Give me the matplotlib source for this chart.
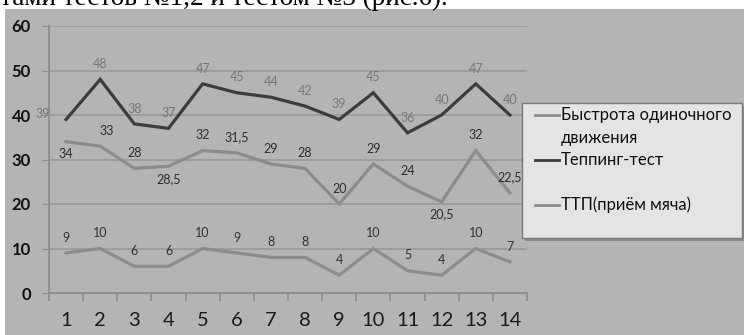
import matplotlib
matplotlib.use("Agg")
import matplotlib.pyplot as plt
from matplotlib.patches import Rectangle
from matplotlib.lines import Line2D

trials = list(range(1, 15))
speed = [34, 33, 28, 28.5, 32, 31.5, 29, 28, 20, 29, 24, 20.5, 32, 22.5]
tapping = [39, 48, 38, 37, 47, 45, 44, 42, 39, 45, 36, 40, 47, 40]
ttp = [9, 10, 6, 6, 10, 9, 8, 8, 4, 10, 5, 4, 10, 7]
series_names = ["Быстрота одиночного\nдвижения", "Теппинг-тест", "ТТП(приём мяча)"]
y_ticks = [0, 10, 20, 30, 40, 50, 60]
caption = "тами тестов №1,2 и тестом №3 (рис.6)."


def fmt(v):
    return (f"{v:g}").replace(".", ",")


BG = "#b4b4b4"
GRID = "#999999"
DARK_LINE = "#3c3c3c"
LIGHT_LINE = "#8c8c8c"

fig = plt.figure(figsize=(7.44, 3.35), dpi=100)
fig.patch.set_facecolor("white")

# grey chart area below the text line
fig.patches.append(Rectangle((5 / 744, 0), 1, 326 / 335, transform=fig.transFigure,
                             facecolor=BG, edgecolor="none", zorder=-5))
fig.text(0.0, 330 / 335, caption, family="Liberation Serif", fontsize=19.5,
         ha="left", va="baseline", color="black", zorder=-4)

ax = fig.add_axes([49 / 744, 42 / 335, 478 / 744, 267 / 335])
ax.set_zorder(1)
ax.set_facecolor("none")
ax.set_xlim(0.5, 14.5)
ax.set_ylim(0, 60)

for s in ["top", "right"]:
    ax.spines[s].set_visible(False)
for s in ["left", "bottom"]:
    ax.spines[s].set_color(LIGHT_LINE)
    ax.spines[s].set_linewidth(1.2)

ax.set_yticks(y_ticks)
ax.set_yticklabels([str(t) for t in y_ticks], fontweight="bold", family="Lato",
                   fontsize=12, color="#111111")
ax.yaxis.grid(True, color=GRID, linewidth=1.2)
ax.set_axisbelow(True)
ax.tick_params(axis="y", length=5, color=LIGHT_LINE, pad=8)

ax.set_xticks(trials)
ax.set_xticklabels([str(t) for t in trials], family="Lato", fontsize=14.5, color="#1a1a1a")
ax.set_xticks([i + 0.5 for i in range(0, 15)], minor=True)
ax.tick_params(axis="x", which="major", length=0, pad=14)
ax.tick_params(axis="x", which="minor", length=6, color=LIGHT_LINE, width=1.2)

ax.plot(trials, speed, color=LIGHT_LINE, lw=2.3, solid_joinstyle="miter", zorder=3)
ax.plot(trials, tapping, color=DARK_LINE, lw=2.3, solid_joinstyle="miter", zorder=3)
ax.plot(trials, ttp, color=LIGHT_LINE, lw=2.3, solid_joinstyle="miter", zorder=3)

lab_kw = dict(family="Lato", fontsize=9, ha="center", va="center", zorder=4)

# speed labels: mostly above, a few below
below_speed = {1, 4, 12}
for x, v in zip(trials, speed):
    dy = -9 if x in below_speed else 11
    dx = 5 if x == 2 else 0
    ax.annotate(fmt(v), (x, v), xytext=(dx, dy), textcoords="offset points",
                color="#2e2e2e", **lab_kw)

for x, v in zip(trials, tapping):
    if x == 1:
        ax.annotate(fmt(v), (x, v), xytext=(-17, 4), textcoords="offset points",
                    color="#777777", **lab_kw)
    else:
        ax.annotate(fmt(v), (x, v), xytext=(0, 11), textcoords="offset points",
                    color="#777777", **lab_kw)

for x, v in zip(trials, ttp):
    ax.annotate(fmt(v), (x, v), xytext=(0, 11), textcoords="offset points",
                color="#333333", **lab_kw)

# legend panel with shadow
lx0, ly0, lx1, ly1 = 522, 335 - 238, 742, 335 - 103
fig.add_artist(Rectangle(((lx0 + 3) / 744, (ly0 - 3) / 335), (lx1 - lx0) / 744,
                         (ly1 - ly0) / 335, transform=fig.transFigure,
                         facecolor="#8a8a8a", edgecolor="none", zorder=5))
fig.add_artist(Rectangle((lx0 / 744, ly0 / 335), (lx1 - lx0) / 744, (ly1 - ly0) / 335,
                         transform=fig.transFigure, facecolor="#e4e4e4",
                         edgecolor="#7a7a7a", linewidth=1.0, zorder=6))

rows = [(115, LIGHT_LINE, series_names[0]),
        (160, DARK_LINE, series_names[1]),
        (205, LIGHT_LINE, series_names[2])]
for y_line, col, name in rows:
    yf = (335 - y_line) / 335
    fig.add_artist(Line2D([535 / 744, 559 / 744], [yf, yf], color=col, lw=2.0, zorder=7))
    for k, part in enumerate(name.split("\n")):
        fig.text(561 / 744, (335 - y_line - 23 * k) / 335, part, family="Lato",
                 fontsize=12, color="#111111", ha="left", va="center", zorder=7)

fig.savefig("out.png", dpi=100)
